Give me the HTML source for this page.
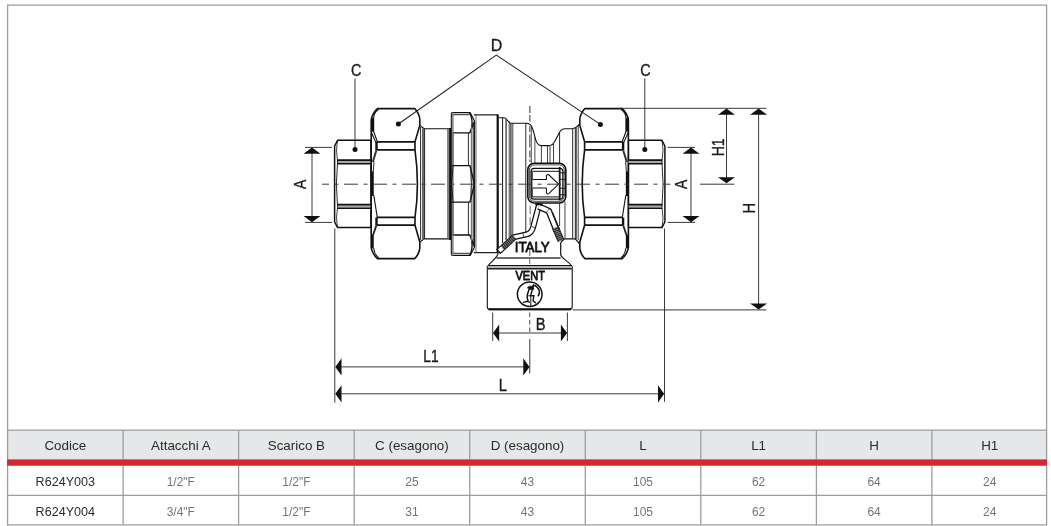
<!DOCTYPE html>
<html>
<head>
<meta charset="utf-8">
<title>R624Y</title>
<style>
html,body{margin:0;padding:0;background:#fff;}
body{width:1051px;height:526px;overflow:hidden;position:relative;font-family:"Liberation Sans",sans-serif;}
#draw{position:absolute;left:0;top:0;width:1051px;height:526px;will-change:transform;}
.lbl{font-family:"Liberation Sans",sans-serif;font-size:16px;fill:#1c1c1c;stroke:#1c1c1c;stroke-width:0.35px;}
.mark{font-family:"Liberation Sans",sans-serif;font-weight:normal;fill:#111;stroke:#111;stroke-width:0.8px;}
.th{font-family:"Liberation Sans",sans-serif;font-size:13.4px;fill:#2b2b2b;text-anchor:middle;}
.td{font-family:"Liberation Sans",sans-serif;font-size:13.6px;fill:#737478;text-anchor:middle;}
.tc{font-family:"Liberation Sans",sans-serif;font-size:13.6px;fill:#2b2b2b;text-anchor:middle;}
</style>
</head>
<body>
<svg id="draw" width="1051" height="526" viewBox="0 0 1051 526">
<!-- ===== FRAME + TABLE ===== -->
<g id="table">
<rect x="7.5" y="430" width="1039" height="29.7" fill="#e6e7e8"/>
<rect x="7.5" y="459.6" width="1039" height="5.9" fill="#d6272e"/>
<g stroke="#9c9ea1" stroke-width="1.3" fill="none">
<path d="M7.6,525.4V5.2H1046.6V525.4"/>
<path d="M7,430.1H1047M7,495.4H1047M7,524.9H1047"/>
<path d="M123.1,430V525M238.6,430V525M354.2,430V525M469.7,430V525M585.3,430V525M700.8,430V525M816.4,430V525M931.9,430V525"/>
</g>
<rect x="7" y="459.6" width="1040" height="5.9" fill="#d6272e"/>
<g class="th">
<text x="65.3" y="450.1">Codice</text><text x="180.8" y="450.1">Attacchi A</text><text x="296.4" y="450.1">Scarico B</text><text x="411.9" y="450.1">C (esagono)</text><text x="527.5" y="450.1">D (esagono)</text><text x="643" y="450.1">L</text><text x="758.6" y="450.1">L1</text><text x="874.1" y="450.1">H</text><text x="989.7" y="450.1">H1</text>
</g>
<g class="td">
<text class="tc" transform="translate(65.3,486.3) scale(0.925,1)">R624Y003</text><text transform="translate(180.8,486.3) scale(0.88,1)">1/2&quot;F</text><text transform="translate(296.4,486.3) scale(0.88,1)">1/2&quot;F</text><text transform="translate(411.9,486.3) scale(0.88,1)">25</text><text transform="translate(527.5,486.3) scale(0.88,1)">43</text><text transform="translate(643,486.3) scale(0.88,1)">105</text><text transform="translate(758.6,486.3) scale(0.88,1)">62</text><text transform="translate(874.1,486.3) scale(0.88,1)">64</text><text transform="translate(989.7,486.3) scale(0.88,1)">24</text>
<text class="tc" transform="translate(65.3,515.5) scale(0.925,1)">R624Y004</text><text transform="translate(180.8,515.5) scale(0.88,1)">3/4&quot;F</text><text transform="translate(296.4,515.5) scale(0.88,1)">1/2&quot;F</text><text transform="translate(411.9,515.5) scale(0.88,1)">31</text><text transform="translate(527.5,515.5) scale(0.88,1)">43</text><text transform="translate(643,515.5) scale(0.88,1)">105</text><text transform="translate(758.6,515.5) scale(0.88,1)">62</text><text transform="translate(874.1,515.5) scale(0.88,1)">64</text><text transform="translate(989.7,515.5) scale(0.88,1)">24</text>
</g>
</g>
<g id="valve" fill="none" stroke-linejoin="round" stroke-linecap="butt">

<!-- ===== left small nut (C) ===== -->
<g id="nutC">
<path d="M337.6,140.3H371V227.6H337.6L334.6,222V146Z" fill="#fff" stroke="#111" stroke-width="1.5"/>
<path d="M337,162H371M337,206.4H371" stroke="#a8a8a8" stroke-width="2.2"/>
<path d="M337,160.1H371M337,163.8H371M337,204.6H371M337,208.3H371" stroke="#111" stroke-width="1.6"/>
<path d="M337.6,161Q335.2,184.2 337.6,207.4" stroke="#111" stroke-width="0.9"/>
<path d="M337.4,140.6Q335.6,150 337.4,160M337.4,208.4Q335.6,218 337.4,227.3" stroke="#111" stroke-width="0.8"/>
</g>
<!-- ===== left big nut (D) ===== -->
<g id="nutD">
<path d="M377.4,108.6H414.7C417,110.5 419.8,116 419.8,119.2V125.4L415,141.8V149.9Q419.8,184.2 415,217.5V225.2L419.8,242V248C419.8,251.2 417,256.7 414.7,258.6H377.4C375,256.7 371.2,251 371.2,247V120.2C371.2,116.2 375,110.5 377.4,108.6Z" fill="#fff" stroke="#111" stroke-width="1.6"/>
<path d="M376.6,141.9H415M376.6,149.9H415M376.6,217.4H415M376.6,225.1H415" stroke="#111" stroke-width="1.7"/>
<path d="M376.5,141.9V149.9M376.5,217.4V225.1" stroke="#111" stroke-width="2.4"/>
<!-- left edge: top face -->
<path d="M378.6,109.6C375.8,111.2 373.6,115 373.6,118.5V131.4L377.3,141.6" stroke="#111" stroke-width="1.2"/>
<path d="M372.5,118V131.6" stroke="#111" stroke-width="2.4"/>
<path d="M371.4,132.5L375.8,142.4" stroke="#111" stroke-width="1.1"/>
<!-- left edge: middle face -->
<path d="M376.4,150.2L372.8,162" stroke="#333" stroke-width="2"/>
<path d="M374,161.6L373.2,172" stroke="#111" stroke-width="0.9"/>
<path d="M372.5,171.5V196" stroke="#111" stroke-width="2.5"/>
<path d="M373.8,195.4L377.2,216.9" stroke="#111" stroke-width="1.1"/>
<!-- left edge: bottom face -->
<path d="M376.4,225.4L373,235.2" stroke="#222" stroke-width="1.8"/>
<path d="M372.5,235V248.2" stroke="#111" stroke-width="2.5"/>
<path d="M373.7,248C374,251.6 376,255.8 378.6,257.8" stroke="#111" stroke-width="1.1"/>
</g>
<!-- ===== pipe section ===== -->
<g id="pipe">
<path d="M419.8,125.4L424.2,128.7H450V238.9H424.2L419.8,242" stroke="#111" stroke-width="1.1"/>
<path d="M420.6,127V240" stroke="#111" stroke-width="0.9"/>
<path d="M423.2,128.5V239.2" stroke="#6a6a6a" stroke-width="2.4"/>
<path d="M424.6,128.7V238.9" stroke="#111" stroke-width="0.9"/>
<path d="M448,128.9V238.7" stroke="#777" stroke-width="1.8"/>
<path d="M450.3,128V240" stroke="#111" stroke-width="2.2"/>
</g>
<!-- ===== middle nut ===== -->
<g id="nutM">
<path d="M453,112.6H470.2L474.6,121.2V247L470.2,255.4H453Q451.3,255.4 451.3,253.6V114.4Q451.3,112.6 453,112.6Z" fill="#fff" stroke="#111" stroke-width="1.1"/>
<path d="M452,114.7H469.6M452,253.3H469.6" stroke="#111" stroke-width="0.9"/>
<path d="M452,132.8H470L474.4,121.4M452,235H470L474.4,246.8" stroke="#111" stroke-width="1.3"/>
<path d="M469.4,113C472.8,117 473,128 469.8,132.6M469.4,255C472.8,251 473,240 469.8,235.3" stroke="#111" stroke-width="1.4"/>
<path d="M453,133V165.6M453,202.2V235M468.4,133V165.6M468.4,202.2V235" stroke="#111" stroke-width="0.9"/>
<path d="M452.9,114V254" stroke="#777" stroke-width="1.4"/>
<path d="M471.6,127V241" stroke="#777" stroke-width="1.6"/>
<path d="M473.4,124V244" stroke="#111" stroke-width="0.8"/>
<path d="M452,165.6H470L474.4,184.2L470,202.2H452" stroke="#111" stroke-width="1.3"/>
<path d="M453,166Q450.4,184.2 453,202" stroke="#111" stroke-width="0.9"/>
<path d="M470.2,166Q472.6,184.2 470.2,202" stroke="#222" stroke-width="0.7"/>
</g>
<!-- ===== body ===== -->
<g id="body">
<path d="M473.8,114.9H497.7M473.8,252.6H497.7" stroke="#222" stroke-width="1.1"/>
<path d="M476,114.9V252.6" stroke="#333" stroke-width="0.7"/>
<path d="M497.7,114.4V253" stroke="#111" stroke-width="2.2"/>
<!-- top profile -->
<path d="M498.5,117.7H504.2C507.2,117.7 508,123.2 511,123.2H526.6C532.2,123.2 533,130 535.4,138.8C536.6,143.2 538.2,145.6 541.4,145.6H549.4C552.2,145.6 553.6,143.6 555,141L559.4,132.4C560.6,130 562,128.7 565,128.7H572.6C576,128.7 577.2,126.4 579.4,124" stroke="#111" stroke-width="1.1"/>
<!-- vertical body lines left group -->
<path d="M502.6,117.8V243" stroke="#111" stroke-width="1"/>
<path d="M506.1,118.4V240" stroke="#5a5a5a" stroke-width="1.6"/>
<path d="M509.2,121V238.5" stroke="#111" stroke-width="0.8"/>
<path d="M510.9,123V238" stroke="#333" stroke-width="1.3"/>
<path d="M512.8,123.2V237.6" stroke="#111" stroke-width="0.8"/>
<path d="M525.8,123.2V234.6" stroke="#111" stroke-width="0.9"/>
<path d="M531.3,126.5V164M534.9,137V163" stroke="#222" stroke-width="0.8"/>
<path d="M541.4,145.6V163M547.5,145.6V163M553.5,143.6V163" stroke="#111" stroke-width="0.8"/>
<path d="M550,145.6V163" stroke="#777" stroke-width="1.4"/>
<path d="M559.6,132V164" stroke="#111" stroke-width="0.9"/>
<path d="M559.6,201V226" stroke="#111" stroke-width="0.8"/>
<path d="M565,201.5V238" stroke="#666" stroke-width="1.2"/>
<path d="M572.7,128.7V238.6" stroke="#111" stroke-width="0.9"/>
<path d="M575.8,128V239" stroke="#444" stroke-width="2"/>
<path d="M578.2,125V240" stroke="#111" stroke-width="0.8"/>
</g>
<!-- ===== right nuts (mirrored) ===== -->
<g transform="translate(999.6,0) scale(-1,1)">
<path d="M377.4,108.6H414.7C417,110.5 419.8,116 419.8,119.2V125.4L415,141.8V149.9Q419.8,184.2 415,217.5V225.2L419.8,242V248C419.8,251.2 417,256.7 414.7,258.6H377.4C375,256.7 371.2,251 371.2,247V120.2C371.2,116.2 375,110.5 377.4,108.6Z" fill="#fff" stroke="#111" stroke-width="1.6"/>
<path d="M376.6,141.9H415M376.6,149.9H415M376.6,217.4H415M376.6,225.1H415" stroke="#111" stroke-width="1.7"/>
<path d="M376.5,141.9V149.9M376.5,217.4V225.1" stroke="#111" stroke-width="2.4"/>
<!-- left edge: top face -->
<path d="M378.6,109.6C375.8,111.2 373.6,115 373.6,118.5V131.4L377.3,141.6" stroke="#111" stroke-width="1.2"/>
<path d="M372.5,118V131.6" stroke="#111" stroke-width="2.4"/>
<path d="M371.4,132.5L375.8,142.4" stroke="#111" stroke-width="1.1"/>
<!-- left edge: middle face -->
<path d="M376.4,150.2L372.8,162" stroke="#333" stroke-width="2"/>
<path d="M374,161.6L373.2,172" stroke="#111" stroke-width="0.9"/>
<path d="M372.5,171.5V196" stroke="#111" stroke-width="2.5"/>
<path d="M373.8,195.4L377.2,216.9" stroke="#111" stroke-width="1.1"/>
<!-- left edge: bottom face -->
<path d="M376.4,225.4L373,235.2" stroke="#222" stroke-width="1.8"/>
<path d="M372.5,235V248.2" stroke="#111" stroke-width="2.5"/>
<path d="M373.7,248C374,251.6 376,255.8 378.6,257.8" stroke="#111" stroke-width="1.1"/>
</g>
<g transform="translate(999.5,0) scale(-1,1)">
<path d="M337.6,140.3H371V227.6H337.6L334.6,222V146Z" fill="#fff" stroke="#111" stroke-width="1.5"/>
<path d="M337,162H371M337,206.4H371" stroke="#a8a8a8" stroke-width="2.2"/>
<path d="M337,160.1H371M337,163.8H371M337,204.6H371M337,208.3H371" stroke="#111" stroke-width="1.6"/>
<path d="M337.6,161Q335.2,184.2 337.6,207.4" stroke="#111" stroke-width="0.9"/>
<path d="M337.4,140.6Q335.6,150 337.4,160M337.4,208.4Q335.6,218 337.4,227.3" stroke="#111" stroke-width="0.8"/>
</g>
<!-- ===== boss right-bottom ===== -->
<g id="boss">
<path d="M560.7,257.4V243.4Q561,241.6 564.6,238.8H574.6Q576,239 578.9,243.8V249L570,262Z" fill="#fff" stroke="none"/>
<path d="M560.7,257.4V243.4Q561,241.6 564.6,238.8H574.6Q576,239 579.5,243.8" stroke="#111" stroke-width="1.2"/>
</g>
<!-- ===== hoses ===== -->
<g id="hoses" stroke-linecap="butt">
<!-- left hose -->
<path d="M538.8,205.6L533.2,227C532.2,231 530.2,233.6 526.6,234.4L512,237.6" stroke="#111" stroke-width="6"/>
<path d="M538.8,205.6L533.2,227C532.2,231 530.2,233.6 526.6,234.4L512,237.6" stroke="#fff" stroke-width="3.5"/>
<path d="M514.4,237L498.2,251.8" stroke="#111" stroke-width="6.4"/>
<path d="M514.4,237L501,249.2" stroke="#8a8a8a" stroke-width="4.6" stroke-dasharray="1 0.9"/>
<path d="M502.4,248L499.2,250.9" stroke="#fff" stroke-width="4"/>
<path d="M531.6,226.6L536,228M522.8,233L524,237.4" stroke="#111" stroke-width="0.7"/>
<!-- right hose -->
<path d="M538.6,206.4L548.8,211L556.6,230.6" stroke="#111" stroke-width="6.6"/>
<path d="M538.6,206.4L548.8,211L556.6,230.6" stroke="#fff" stroke-width="4"/>
<path d="M555.4,227.6L561,240.6" stroke="#111" stroke-width="7"/>
<path d="M555.4,227.6L561,240.6" stroke="#8a8a8a" stroke-width="5.2" stroke-dasharray="1 0.9"/>
<path d="M546.8,211.8L550.2,208.2" stroke="#111" stroke-width="0.7"/>
<path d="M552.4,212.5L559.6,230" stroke="#222" stroke-width="1.6"/>
<path d="M535.6,205Q538.8,202.4 542,205.4" stroke="#111" stroke-width="2.4"/>
</g>
<!-- ===== arrow box ===== -->
<g id="abox">
<rect x="527.8" y="163.2" width="38" height="39.8" rx="6.5" ry="6.5" fill="#fff" stroke="#111" stroke-width="1.6"/>
<rect x="529.4" y="164.9" width="34.8" height="36.4" rx="5" ry="5" stroke="#333" stroke-width="0.9"/>
<rect x="531" y="168.4" width="31.8" height="30.8" rx="3" ry="3" stroke="#111" stroke-width="1.2"/>
<path d="M531.4,171.3H559.6M531.4,196.9H559.6" stroke="#111" stroke-width="1"/>
<path d="M559.7,167V200.4" stroke="#111" stroke-width="1.8"/>
<path d="M562.8,170V198" stroke="#444" stroke-width="0.7"/>
<path d="M560,172.8H565.4M560,179.3H565.4M560,188.3H565.4M560,194.8H565.4" stroke="#111" stroke-width="0.9"/>
<path d="M532,172V197" stroke="#111" stroke-width="1.4"/>
<!-- arrow -->
<path d="M532.6,179.4H546.4V175.6Q547.4,173.6 549,175L558.6,184.2L549,193.4Q547.4,194.8 546.4,192.8V187.9H532.6" stroke="#111" stroke-width="1.05" fill="#fff"/>
</g>
<!-- ===== vent ===== -->
<g id="vent">
<path d="M498.4,254C497.4,258 491,261.4 487.8,266.2H572C569,261.6 562.4,258.6 560.8,255Z" fill="#fff" stroke="none"/>
<path d="M498.2,252.8C497.4,258 491,261.4 487.8,266.2M572,266.2C569,261.6 562.4,259 560.7,255" stroke="#111" stroke-width="1.1"/>
<path d="M496.4,257.9H560.7" stroke="#3c3c3c" stroke-width="1.5"/>
<path d="M488.4,265.6H571.6" stroke="#111" stroke-width="1.4"/>
<path d="M488,268.8H571.8" stroke="#222" stroke-width="1.5"/>
<path d="M487.3,266V307Q487.3,309.2 489.5,309.2H570Q572.2,309.2 572.2,307V266" fill="#fff" stroke="#111" stroke-width="1.1"/>
<path d="M488.4,265.6H571.6" stroke="#111" stroke-width="1.4"/>
<path d="M488,268.8H571.8" stroke="#222" stroke-width="1.5"/>
<path d="M488,267.2H571.8" stroke="#b5b5b5" stroke-width="1.8"/>
<path d="M488.5,309.3H571" stroke="#111" stroke-width="1.9"/>
<path d="M489,310.5H570.5" stroke="#999" stroke-width="0.9"/>
<circle cx="529.7" cy="294.2" r="12.3" stroke="#111" stroke-width="1.5"/>
<!-- kneeling figure (logo) -->
<g stroke="#111" fill="none" stroke-linecap="round" stroke-linejoin="round">
<path d="M527.6,287.6L529.4,286.2L531.6,286.4L533.8,284.4L534.6,285.2L533.4,287.6L533.8,289.4L531.6,289.6L529.6,289.2Z" fill="#111" stroke-width="0.8"/>
<path d="M535.2,285.6Q539.6,288.6 539.4,292.4Q539.2,294.6 538.2,295.8" stroke-width="1.5"/>
<path d="M529,289.6L527.4,294.6L527.2,297.6L528,301" stroke-width="1.5"/>
<path d="M523.6,302.4L526.4,301.4L529.4,302.2" stroke-width="1.3"/>
<path d="M532.2,290.2L530.6,295.6H534L533,300.4L535.4,302.8" stroke-width="1.4"/>
<path d="M530.8,296.2V306.6" stroke-width="1"/>
<path d="M528.6,295.8H533.6" stroke-width="1"/>
</g>
</g>
<!-- marks -->
<text class="mark" x="532.2" y="251.7" font-size="14.4" text-anchor="middle" textLength="35" lengthAdjust="spacingAndGlyphs">ITALY</text>
<text class="mark" x="530.2" y="279.9" font-size="13.2" text-anchor="middle" textLength="29.4" lengthAdjust="spacingAndGlyphs">VENT</text>
<path d="M530.2,206V226" stroke="#888" stroke-width="1.3" stroke-dasharray="8 3" fill="none"/>
<path d="M529.7,250V264" stroke="#777" stroke-width="1.2" stroke-dasharray="6 3" fill="none"/>
<path d="M529.7,312.5V334" stroke="#666" stroke-width="1.2" stroke-dasharray="4.5 3" fill="none"/>
</g>
<g id="centre" fill="none">
<path d="M322,184.2H670.5" stroke="#3a3a3a" stroke-width="1" stroke-dasharray="14 5.5 4 5.5" stroke-dashoffset="7"/>
<path d="M529.8,106V162" stroke="#777" stroke-width="1.5" stroke-dasharray="7 2 6.5 4.5 6 2.5 13 3"/>
</g>
<!-- ===== DIMENSIONS ===== -->
<g id="dims" stroke="#222" stroke-width="0.9" fill="none">
<!-- leaders -->
<path d="M355,78.6V149.4M644.8,78.4V149.4"/>
<path d="M398.4,124L496.3,55.1L600.4,124.4" stroke-width="1.1"/>
<!-- A left -->
<path d="M305,147.4H332M305,222.4H332M312,150V220"/>
<!-- A right -->
<path d="M667.6,147.4H695M667.6,222.4H695M691,150V220"/>
<!-- H1 / H -->
<path d="M620,108.3H766.3M700,184.2H734.4M726.5,111V180"/>
<path d="M572.6,309.9H766.3M758.6,111V307"/>
<!-- B -->
<path d="M492.7,312.6V341M567.4,312.6V341M495,333H565"/>
<!-- L1 / L -->
<path d="M334.8,228.5V402.6M664.5,228.5V401.8"/>
<path d="M338,366.9H527M529.8,339V373.5"/>
<path d="M338,393.8H662"/>
</g>
<g id="arrows" fill="#111" stroke="none">
<circle cx="355" cy="149.4" r="2.5"/><circle cx="644.8" cy="149.4" r="2.5"/>
<circle cx="398.4" cy="124.1" r="2.5"/><circle cx="600.4" cy="124.4" r="2.5"/>
<!-- vertical arrowheads: tip, base +-8.3, len 6 -->
<path d="M312,147.6l8.5,6.1h-17zM312,222.2l8.5,-6.1h-17z"/>
<path d="M691,147.6l8.5,6.1h-17zM691,222.2l8.5,-6.1h-17z"/>
<path d="M726.5,108.6l8.5,6.1h-17zM726.5,183.3l8.5,-6.1h-17z"/>
<path d="M758.6,108.6l8.5,6.1h-17zM758.6,309.6l8.5,-6.1h-17z"/>
<!-- horizontal arrowheads -->
<path d="M493,333l6.2,-8.4v16.8zM567.1,333l-6.2,-8.4v16.8z"/>
<path d="M335.3,366.9l6.2,-8.6v17.2zM529.5,366.9l-6.2,-8.6v17.2z"/>
<path d="M335.3,393.8l6.2,-8.6v17.2zM664.2,393.8l-6.2,-8.6v17.2z"/>
</g>
<g id="labels" class="lbl" text-anchor="middle">
<text transform="translate(496.6,50.8)">D</text>
<text transform="translate(356.2,76) scale(0.9,1)">C</text>
<text transform="translate(645.4,76) scale(0.9,1)">C</text>
<text transform="translate(540.6,329.8) scale(0.92,1)">B</text>
<text transform="translate(430.9,362.4) scale(0.86,1)">L1</text>
<text transform="translate(502.8,390.8) scale(0.92,1)">L</text>
<text transform="translate(306,184.4) rotate(-90) scale(0.87,1)">A</text>
<text transform="translate(686.9,184.4) rotate(-90) scale(0.87,1)">A</text>
<text transform="translate(724,147.3) rotate(-90) scale(0.88,1)">H1</text>
<text transform="translate(754.5,208.1) rotate(-90) scale(0.92,1)">H</text>
</g>
</svg>
</body>
</html>
